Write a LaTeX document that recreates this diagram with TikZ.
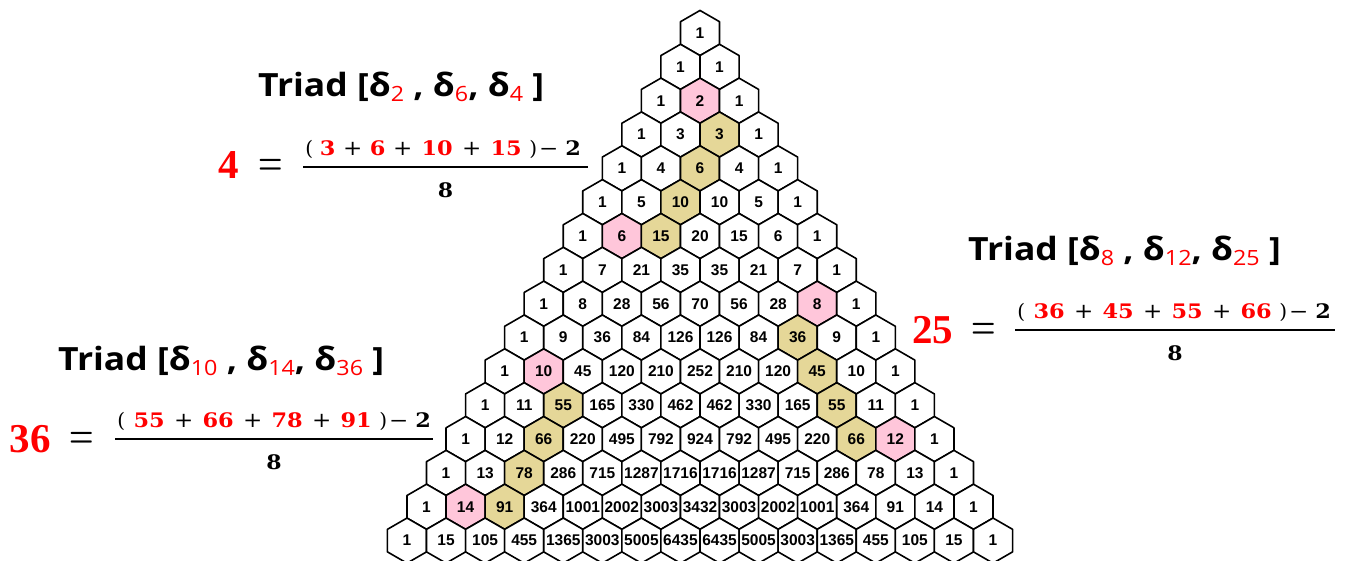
\documentclass[tikz,border=0pt]{standalone}
\usepackage{fontspec}
\usepackage{graphicx}
\newfontfamily\cellfont{Liberation Sans}
\newfontfamily\titlefont{Open Sans}
\newfontfamily\bignumfont{Liberation Serif}
\newfontfamily\fracfont{DejaVu Serif}
\definecolor{hexpink}{RGB}{255,198,218}
\definecolor{hextan}{RGB}{229,215,152}
\definecolor{eqred}{RGB}{255,0,0}
\newcommand{\tsub}[1]{\raisebox{-5pt}{\fontsize{21}{21}\selectfont\mdseries\color{eqred}#1}}
\newcommand{\ttl}[1]{\scalebox{1.11}[1]{#1}}
\newcommand{\nm}[2]{\makebox[#1pt][c]{\scalebox{1.12}[1]{\bfseries\color{eqred}#2}}}
\newcommand{\pl}{\makebox[25pt][c]{\scalebox{1.15}[1.05]{+}}}
\newcommand{\numhead}{\makebox[12pt][c]{(}}
\newcommand{\numtail}{\makebox[10pt][c]{)}\makebox[21pt][c]{\scalebox{1.15}[1]{−}}\makebox[28pt][c]{\scalebox{1.12}[1]{\bfseries 2}}}
\newcommand{\setcf}[3]{\expandafter\def\csname cf-#1-#2\endcsname{#3}}
\setcf{2}{1}{hexpink}\setcf{6}{1}{hexpink}\setcf{8}{7}{hexpink}
\setcf{10}{1}{hexpink}\setcf{12}{11}{hexpink}\setcf{14}{1}{hexpink}
\setcf{3}{2}{hextan}\setcf{4}{2}{hextan}\setcf{5}{2}{hextan}\setcf{6}{2}{hextan}
\setcf{9}{7}{hextan}\setcf{10}{8}{hextan}\setcf{11}{9}{hextan}\setcf{12}{10}{hextan}
\setcf{11}{2}{hextan}\setcf{12}{2}{hextan}\setcf{13}{2}{hextan}\setcf{14}{2}{hextan}
\begin{document}
\begin{tikzpicture}[x=1pt,y=-1pt,
  hexline/.style={draw=black, line width=1.6pt, line join=round},
  celltext/.style={font=\cellfont\bfseries\fontsize{15.5}{16}\selectfont, inner sep=0pt},
  titletext/.style={font=\titlefont\bfseries\fontsize{32}{36}\selectfont, inner sep=0pt, anchor=base west},
  bignum/.style={font=\bignumfont\bfseries\fontsize{41}{41}\selectfont, text=eqred, inner sep=0pt, anchor=base},
  eqsign/.style={font=\bfseries\fontsize{28}{28}\selectfont, inner sep=0pt, anchor=base},
  numer/.style={font=\fracfont\fontsize{20}{24}\selectfont, inner sep=0pt, anchor=base west},
  denom/.style={font=\fracfont\bfseries\fontsize{20}{24}\selectfont, inner sep=0pt, anchor=base},
  fracbar/.style={draw=black, line width=2.4pt}]
\useasboundingbox (0,0) rectangle (1348,560);
\clip (0,0) rectangle (1348,560);
\def\R{22.56}
\def\W{39.07}
\def\rows{0/{1},1/{1,1},2/{1,2,1},3/{1,3,3,1},4/{1,4,6,4,1},5/{1,5,10,10,5,1},
6/{1,6,15,20,15,6,1},7/{1,7,21,35,35,21,7,1},8/{1,8,28,56,70,56,28,8,1},
9/{1,9,36,84,126,126,84,36,9,1},10/{1,10,45,120,210,252,210,120,45,10,1},
11/{1,11,55,165,330,462,462,330,165,55,11,1},
12/{1,12,66,220,495,792,924,792,495,220,66,12,1},
13/{1,13,78,286,715,1287,1716,1716,1287,715,286,78,13,1},
14/{1,14,91,364,1001,2002,3003,3432,3003,2002,1001,364,91,14,1},
15/{1,15,105,455,1365,3003,5005,6435,6435,5005,3003,1365,455,105,15,1}}
% hexagons
\foreach \r/\row in \rows {
  \foreach \v [count=\k from 0] in \row {
    \pgfmathsetmacro\cx{700+(\k-\r/2)*\W}
    \pgfmathsetmacro\cy{33+\r*33.84}
    \ifcsname cf-\r-\k\endcsname \edef\fc{\csname cf-\r-\k\endcsname}\else\def\fc{white}\fi
    \path[hexline, fill=\fc] (\cx,\cy) +(90:\R) -- +(30:\R) -- +(-30:\R) -- +(-90:\R) -- +(-150:\R) -- +(150:\R) -- cycle;
  }
}
% numbers
\foreach \r/\row in \rows {
  \foreach \v [count=\k from 0] in \row {
    \pgfmathsetmacro\cx{700+(\k-\r/2)*\W}
    \pgfmathsetmacro\cy{33+\r*33.84}
    \node[celltext] (h\r-\k) at (\cx,\cy) {\v};
  }
}
% top block
\node[titletext] (t1) at (258,96) {\ttl{Triad [δ\tsub{2} , δ\tsub{6}, δ\tsub{4} ]}};
\node[bignum] (e1) at (229,178) {4};
\node[eqsign] (q1) at (270.5,174.8) {\scalebox{1}[1.4]{=}};
\node[numer] (n1) at (303,155.5) {\numhead\nm{25}{3}\pl\nm{25}{6}\pl\nm{44}{10}\pl\nm{44}{15}\numtail};
\coordinate (b1l) at (303,167); \coordinate (b1r) at (588,167);
\draw[fracbar] (b1l) -- (b1r);
\node[denom] (d1) at (445.5,197) {\scalebox{1.1}[1]{8}};
% right block
\node[titletext] (t2) at (968,260) {\ttl{Triad [δ\tsub{8} , δ\tsub{12}, δ\tsub{25} ]}};
\node[bignum] (e2) at (932.5,343) {25};
\node[eqsign] (q2) at (984,338.3) {\scalebox{1}[1.4]{=}};
\node[numer] (n2) at (1015,318.5) {\numhead\nm{44}{36}\pl\nm{44}{45}\pl\nm{44}{55}\pl\nm{44}{66}\numtail};
\coordinate (b2l) at (1015,330); \coordinate (b2r) at (1335,330);
\draw[fracbar] (b2l) -- (b2r);
\node[denom] (d2) at (1175,360) {\scalebox{1.1}[1]{8}};
% left block
\node[titletext] (t3) at (58,370) {\ttl{Triad [δ\tsub{10} , δ\tsub{14}, δ\tsub{36} ]}};
\node[bignum] (e3) at (30,452) {36};
\node[eqsign] (q3) at (82,447.8) {\scalebox{1}[1.4]{=}};
\node[numer] (n3) at (115,427.5) {\numhead\nm{44}{55}\pl\nm{44}{66}\pl\nm{44}{78}\pl\nm{44}{91}\numtail};
\coordinate (b3l) at (115,439); \coordinate (b3r) at (433,439);
\draw[fracbar] (b3l) -- (b3r);
\node[denom] (d3) at (274,469) {\scalebox{1.1}[1]{8}};
\end{tikzpicture}
\end{document}
